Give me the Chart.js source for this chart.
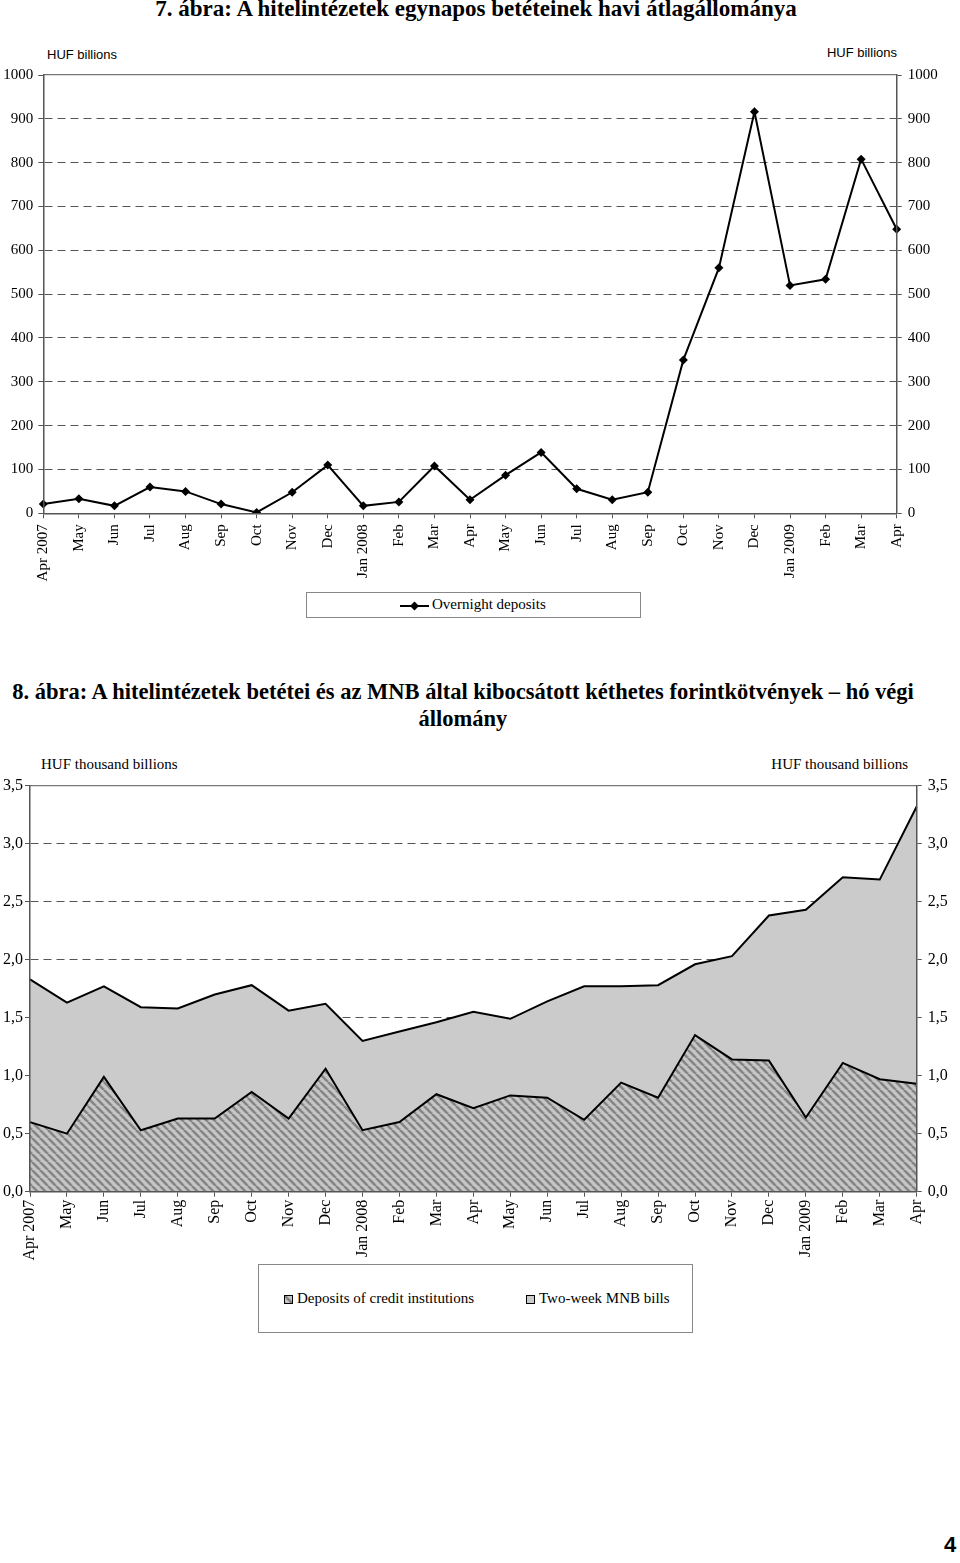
<!DOCTYPE html>
<html>
<head>
<meta charset="utf-8">
<script src="https://cdn.jsdelivr.net/npm/chart.js@4.4.1/dist/chart.umd.min.js"></script>
<style>
body { margin: 0; background: #fff; width: 960px; height: 1563px; position: relative; overflow: hidden; font-family: 'Liberation Serif', serif; color: #000; }
.title { position: absolute; left: 0; width: 960px; text-align: center; font-weight: bold; }
.unit { position: absolute; white-space: nowrap; }
canvas { position: absolute; left: 0; }
.legend { position: absolute; border: 1px solid #888; box-sizing: border-box; background: #fff; }
.legend span { position: absolute; white-space: nowrap; font-size: 15px; }
.swatch { position: absolute; width: 9px; height: 9px; border: 1px solid #000; box-sizing: border-box; }
#pagenum { position: absolute; left: 944px; top: 1532px; font: bold 22px 'Liberation Sans', sans-serif; }
</style>
</head>
<body>

<div class="title" style="top:-4px; left:-4px; font-size:23px;">7. ábra: A hitelintézetek egynapos betéteinek havi átlagállománya</div>
<div class="unit" style="left:47px; top:47px; font:13px 'Liberation Sans', sans-serif;">HUF billions</div>
<div class="unit" style="right:63px; top:45px; font:13px 'Liberation Sans', sans-serif;">HUF billions</div>
<canvas id="firstChart" width="960" height="530" style="top:60px;"></canvas>
<div class="legend" style="left:306px; top:592px; width:335px; height:26px;">
  <svg style="position:absolute; left:93px; top:6px;" width="30" height="14">
    <line x1="0" y1="7" x2="29" y2="7" stroke="#000" stroke-width="2"/>
    <polygon points="14.5,2.5 19,7 14.5,11.5 10,7" fill="#000"/>
  </svg>
  <span style="left:125px; top:3px;">Overnight deposits</span>
</div>

<div class="title" style="top:678px; left:-17px; font-size:22.5px; line-height:27px;">8. ábra: A hitelintézetek betétei és az MNB által kibocsátott kéthetes forintkötvények – hó végi<br>állomány</div>
<div class="unit" style="left:41px; top:756px; font-size:15px;">HUF thousand billions</div>
<div class="unit" style="right:52px; top:756px; font-size:15px;">HUF thousand billions</div>
<canvas id="secondChart" width="960" height="500" style="top:770px;"></canvas>
<div class="legend" style="left:258px; top:1264px; width:435px; height:69px;">
  <div class="swatch" id="swatchDeposits" style="left:25px; top:30px;"></div>
  <span style="left:38px; top:25px;">Deposits of credit institutions</span>
  <div class="swatch" style="left:267px; top:30px; background:#cbcbcb;"></div>
  <span style="left:280px; top:25px;">Two-week MNB bills</span>
</div>

<div id="pagenum">4</div>

<script>
const months = ['Apr 2007', 'May', 'Jun', 'Jul', 'Aug', 'Sep', 'Oct', 'Nov', 'Dec', 'Jan 2008', 'Feb', 'Mar',
    'Apr', 'May', 'Jun', 'Jul', 'Aug', 'Sep', 'Oct', 'Nov', 'Dec', 'Jan 2009', 'Feb', 'Mar', 'Apr'];

// 7. ábra - overnight deposits, HUF billions
const overnightDeposits = [21, 33, 17, 60, 50, 21, 2, 48, 110, 17, 26, 108, 31, 87, 139, 56, 31, 48, 350, 560, 916, 520, 534, 808, 648];

// 8. ábra - month end stocks, HUF thousand billions (stacked)
const creditDeposits = [0.60, 0.50, 0.99, 0.53, 0.63, 0.63, 0.86, 0.63, 1.06, 0.53, 0.60, 0.84, 0.72, 0.83, 0.81, 0.62, 0.94, 0.81, 1.35, 1.14, 1.13, 0.64, 1.11, 0.97, 0.93];
const mnbBills = [1.23, 1.13, 0.78, 1.06, 0.95, 1.07, 0.92, 0.93, 0.56, 0.77, 0.78, 0.62, 0.83, 0.66, 0.83, 1.15, 0.83, 0.97, 0.61, 0.89, 1.25, 1.79, 1.60, 1.72, 2.39];

Chart.defaults.font.family = "'Liberation Serif', serif";
Chart.defaults.color = '#000';
Chart.defaults.animation = false;

// striped fill for the deposits area
function makeHatch() {
    const n = 8;
    const c = document.createElement('canvas');
    c.width = n; c.height = n;
    const g = c.getContext('2d');
    g.fillStyle = '#c6c6c6';
    g.fillRect(0, 0, n, n);
    g.strokeStyle = '#868686';
    g.lineWidth = 2.6;
    for (const k of [-n, 0, n]) {
        g.beginPath();
        g.moveTo(k, 0);
        g.lineTo(k + n, n);
        g.stroke();
    }
    return c;
}
const hatchCanvas = makeHatch();
const hatch = document.createElement('canvas').getContext('2d').createPattern(hatchCanvas, 'repeat');
document.getElementById('swatchDeposits').style.background = 'url(' + hatchCanvas.toDataURL() + ')';

function fixWidth(w) { return (scale) => { scale.width = w; }; }
function fixHeight(h) { return (scale) => { scale.height = h; }; }

function yAxis(pos, width, max, step, fontSize, pad, fmt) {
    return {
        position: pos,
        min: 0,
        max: max,
        afterFit: fixWidth(width),
        border: { display: true, color: '#555', width: 1.5, dash: [8, 5], z: 1 },
        grid: {
            display: true,
            drawOnChartArea: pos === 'left',
            color: (c) => (c.tick && (c.tick.value === 0 || c.tick.value === max)) ? 'rgba(0,0,0,0)' : '#555',
            tickColor: '#555',
            tickLength: 5
        },
        ticks: { stepSize: step, padding: pad, font: { size: fontSize }, callback: fmt }
    };
}

function xAxis(height, fontSize, pad) {
    return {
        afterFit: fixHeight(height),
        border: { display: true, color: '#555', width: 1.5, z: 1 },
        grid: { display: true, drawOnChartArea: false, tickColor: '#555', tickLength: 5 },
        ticks: { autoSkip: false, minRotation: 90, maxRotation: 90, padding: pad, font: { size: fontSize } }
    };
}

const topLine = {
    position: 'top',
    display: true,
    afterFit: fixHeight(0),
    border: { display: true, color: '#777', width: 1.2, z: 1 },
    grid: { display: false },
    ticks: { display: false }
};

const ctx = document.getElementById('firstChart').getContext('2d');
const myChart = new Chart(ctx, {
    type: 'line',
    data: {
        labels: months,
        datasets: [{
            label: 'Overnight deposits',
            data: overnightDeposits,
            borderColor: '#000',
            backgroundColor: '#000',
            borderWidth: 2,
            tension: 0,
            pointStyle: 'rectRot',
            pointRadius: 4.5,
            pointBorderWidth: 0
        }]
    },
    options: {
        responsive: false,
        layout: { padding: { top: 13.3, bottom: 0, left: 0, right: 0 } },
        plugins: { legend: { display: false }, tooltip: { enabled: false } },
        scales: {
            x: xAxis(76.7, 15, 6),
            xTop: topLine,
            y: yAxis('left', 43.3, 1000, 100, 15, 5),
            y2: yAxis('right', 63.3, 1000, 100, 15, 6)
        }
    }
});

const comma = (v) => v.toFixed(1).replace('.', ',');

const ctx2 = document.getElementById('secondChart').getContext('2d');
const myChart2 = new Chart(ctx2, {
    type: 'line',
    data: {
        labels: months,
        datasets: [{
            label: 'Deposits of credit institutions',
            data: creditDeposits,
            borderColor: '#000',
            borderWidth: 2,
            backgroundColor: hatch,
            fill: 'origin',
            pointRadius: 0,
            tension: 0
        }, {
            label: 'Two-week MNB bills',
            data: mnbBills,
            borderColor: '#000',
            borderWidth: 2,
            backgroundColor: '#cbcbcb',
            fill: '-1',
            pointRadius: 0,
            tension: 0
        }]
    },
    options: {
        responsive: false,
        layout: { padding: { top: 11.3, bottom: 0, left: 0, right: 0 } },
        plugins: { legend: { display: false }, tooltip: { enabled: false } },
        scales: {
            x: xAxis(78.3, 16, 3),
            xTop: topLine,
            y: Object.assign(yAxis('left', 30, 3.5, 0.5, 16, 2, comma), { stacked: true }),
            y2: yAxis('right', 43.3, 3.5, 0.5, 16, 6, comma)
        }
    }
});
</script>
</body>
</html>
